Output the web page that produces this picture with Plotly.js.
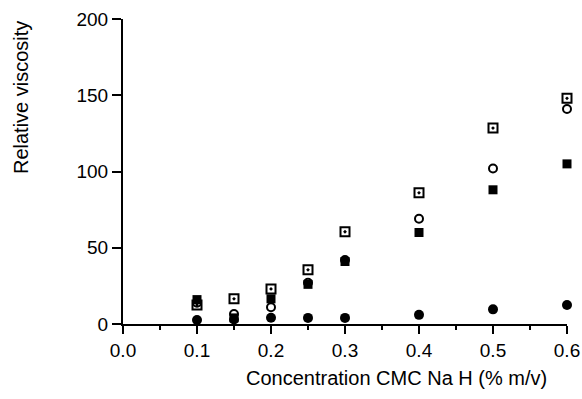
<!DOCTYPE html>
<html>
<head>
<meta charset="utf-8">
<script src="https://cdn.plot.ly/plotly-3.0.1.min.js"></script>
<style>html,body{margin:0;padding:0;background:#fff;}#chart{width:582px;height:399px;}</style>
</head>
<body>
<div id="chart"></div>
<script>
const conc = [0.1, 0.15, 0.2, 0.25, 0.3, 0.4, 0.5, 0.6];
const seriesOpenSquare = [12.5, 16.5, 23, 35.5, 60.5, 86, 128.5, 148];
const seriesOpenCircle = [14, 6.5, 11, 27, 42, 69, 102, 141];
const seriesFilledSquare = [16, 4, 16.5, 26, 41, 60, 88, 105];
const seriesFilledCircle = [2.6, 3, 4.1, 4, 4, 6, 9.6, 12.5];
const xTickVals = [0, 0.1, 0.2, 0.3, 0.4, 0.5, 0.6];
const xTickText = ['0.0', '0.1', '0.2', '0.3', '0.4', '0.5', '0.6'];
const yTickVals = [0, 50, 100, 150, 200];

const tickFont = {family: 'Liberation Sans, Arial, sans-serif', size: 19, color: '#000'};
const titleFont = {family: 'Liberation Sans, Arial, sans-serif', size: 20, color: '#000'};

function tr(y, symbol, size, lw) {
  return {
    x: conc, y: y, type: 'scatter', mode: 'markers', cliponaxis: false,
    marker: {symbol: symbol, size: size, color: '#000', line: {color: '#000', width: lw}}
  };
}
const data = [
  tr(seriesOpenSquare, 'square-open-dot', 9, 2),
  tr(seriesOpenCircle, 'circle-open', 8, 2),
  tr(seriesFilledSquare, 'square', 9, 0),
  tr(seriesFilledCircle, 'circle', 10, 0)
];

const layout = {
  width: 582, height: 399,
  margin: {l: 123, r: 15, t: 19, b: 75},
  paper_bgcolor: '#fff', plot_bgcolor: '#fff',
  showlegend: false,
  font: tickFont,
  xaxis: {
    range: [0, 0.6], tickvals: xTickVals, ticktext: xTickText,
    showgrid: false, zeroline: false, showline: true, linecolor: '#000', linewidth: 2,
    ticks: 'outside', ticklen: 8, tickwidth: 2, tickcolor: '#000',
    minor: {dtick: 0.05, ticks: 'outside', ticklen: 4, tickwidth: 2, tickcolor: '#000'},
    tickfont: tickFont
  },
  yaxis: {
    range: [0, 200], tickvals: yTickVals,
    showgrid: false, zeroline: false, showline: true, linecolor: '#000', linewidth: 2,
    ticks: 'outside', ticklen: 9, tickwidth: 2, tickcolor: '#000',
    tickfont: tickFont
  },
  annotations: [
    {text: 'Concentration CMC Na H (% m/v)', xref: 'paper', yref: 'paper', x: 0.617, y: -0.177,
     xanchor: 'center', yanchor: 'middle', showarrow: false, font: titleFont},
    {text: 'Relative viscosity', xref: 'paper', yref: 'paper', x: -0.2297, y: 0.741,
     xanchor: 'center', yanchor: 'middle', textangle: -90, showarrow: false, font: titleFont}
  ]
};
Plotly.newPlot('chart', data, layout, {displayModeBar: false, staticPlot: true});
</script>
</body>
</html>
